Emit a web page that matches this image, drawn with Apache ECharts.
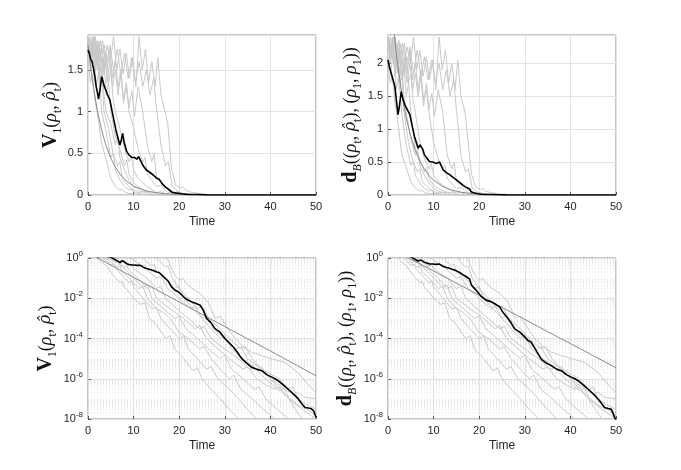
<!DOCTYPE html>
<html>
<head>
    <meta charset="UTF-8">
    <title>V1 / dB decay</title>
    <style>
        html, body { margin: 0; padding: 0; background: #fff; }
        #main { width: 681px; height: 470px; }
    </style>
</head>
<body>
<div id="main"></div>
<script src="https://cdn.jsdelivr.net/npm/echarts@6/dist/echarts.min.js"></script>
<script>
// x ticks and y ticks
var xTicks = [0, 10, 20, 30, 40, 50];
var yMaxLeft = 1.92, yMaxRight = 2.43;
var logMin = 1e-8, logMax = 1;

// black trajectory, left (V1) and right (dB)
var blackL = [[0,1.74],[0.3,1.7],[0.6,1.63],[0.9,1.6],[1.2,1.52],[1.5,1.42],[1.8,1.3],[2.1,1.22],[2.3,1.15],[2.6,1.25],[3.0,1.42],[3.3,1.36],[3.6,1.3],[3.9,1.26],[4.3,1.2],[4.8,1.14],[5.3,1.0],[5.6,0.92],[5.9,0.84],[6.2,0.76],[6.5,0.70],[7.0,0.60],[7.3,0.66],[7.6,0.74],[7.9,0.64],[8.5,0.52],[9.0,0.48],[9.6,0.45],[10.2,0.45],[10.7,0.43],[11.1,0.46],[11.4,0.44],[12.1,0.35],[12.8,0.30],[13.6,0.27],[14.3,0.24],[15.1,0.20],[15.6,0.19],[16.2,0.14],[16.5,0.12],[17.0,0.095],[17.6,0.07],[18.3,0.037],[19.1,0.025],[19.8,0.021],[20.5,0.015],[21.3,0.01],[22.0,0.008],[22.8,6.6e-3],[23.7,5.5e-3],[24.6,4.5e-3],[25.3,2.5e-3],[26.0,1e-3],[27.0,6e-4],[27.8,3.2e-4],[29.0,2e-4],[30.0,1e-4],[31.0,6e-5],[31.9,3.7e-5],[32.8,2e-5],[33.7,1e-5],[34.8,6e-6],[35.9,3.7e-6],[37,3e-6],[38.1,2.5e-6],[39.2,1.6e-6],[40.3,1.2e-6],[41.0,1e-6],[41.7,8e-7],[42.8,5e-7],[43.9,3e-7],[45,1.8e-7],[46.1,1e-7],[46.8,6e-8],[47.6,3.7e-8],[48.3,3.5e-8],[49.0,3.2e-8],[49.5,2.5e-8],[50,1.2e-8]];
var blackR = [[0,2.05],[0.3,1.95],[0.7,1.85],[1.1,1.75],[1.5,1.65],[1.9,1.4],[2.2,1.22],[2.5,1.35],[2.9,1.57],[3.3,1.45],[3.7,1.37],[4.2,1.3],[4.8,1.22],[5.3,1.05],[5.8,0.89],[6.2,0.8],[6.6,0.71],[7.0,0.76],[7.3,0.79],[7.6,0.7],[8.0,0.61],[8.5,0.56],[9.1,0.51],[9.8,0.5],[10.6,0.48],[11.0,0.51],[11.3,0.5],[12.1,0.38],[12.8,0.34],[13.5,0.31],[14.2,0.27],[15,0.23],[15.7,0.19],[16.4,0.15],[17.1,0.12],[17.9,0.09],[18.3,0.045],[19,0.03],[19.7,0.02],[20.5,0.012],[21.5,8e-3],[22.7,6.6e-3],[23.6,5e-3],[24.5,3.7e-3],[25.2,2e-3],[26,1.2e-3],[27,6e-4],[27.8,3e-4],[29,2e-4],[30,1.2e-4],[30.7,8e-5],[31.4,6.6e-5],[32.5,2.5e-5],[33.6,9.5e-6],[34.7,6e-6],[35.8,4.5e-6],[37,3e-6],[38,2.5e-6],[39.1,1.6e-6],[40.2,1.2e-6],[41,1e-6],[41.7,8e-7],[42.8,5e-7],[43.9,3e-7],[45,1.8e-7],[46.1,9.5e-8],[46.8,6e-8],[47.5,3.7e-8],[48.3,3.3e-8],[49,3e-8],[49.7,1.2e-8],[50,0.9e-8]];

// smooth exponential reference curves
var smoothL = [[0,1.8],[1,1.36],[2,1.03],[3,0.775],[4,0.585],[5,0.442],[6,0.334],[7,0.252],[8,0.19],[9,0.144],[10,0.108],[12,0.062],[14,0.0353],[16,0.0201],[18,0.0115],[20,0.00655],[25,1.6e-3],[30,3.9e-4],[35,9.7e-5],[40,2.4e-5],[45,5.8e-6],[50,1.4e-6]];
var smoothR = [[0,3.55],[1,2.69],[2,2.04],[3,1.55],[4,1.17],[5,0.89],[6,0.676],[7,0.51],[8,0.39],[9,0.295],[10,0.224],[12,0.129],[14,0.074],[16,0.0427],[18,0.0246],[20,0.0141],[25,3.5e-3],[30,8.9e-4],[35,2.2e-4],[40,5.6e-5],[45,1.4e-5],[50,3.5e-6]];

// gray sample trajectories: early part differs per panel, the tail is shared
var grayHeadL = [
    [[0,1.62],[0.5,1.35],[1,1.45],[1.5,1.15],[2,1.0]],
    [[0,1.7],[0.6,1.5],[1.2,1.75],[1.8,1.3],[2.4,1.5],[3,1.0]],
    [[0,1.85],[0.5,1.6],[1,1.8],[1.5,1.45],[2,1.7],[2.5,1.3],[3,1.5],[3.5,1.0]],
    [[0,1.9],[0.5,1.7],[1,1.85],[1.5,1.55],[2,1.8],[2.5,1.4],[3,1.65],[3.5,1.2],[4,1.0]],
    [[0,1.8],[0.5,1.9],[1,1.65],[1.5,1.9],[2,1.5],[2.5,1.75],[3,1.4],[3.5,1.6],[4,1.2],[4.5,1.35],[5,1.0]],
    [[0,1.9],[0.5,1.75],[1,1.9],[1.5,1.6],[2,1.85],[2.5,1.5],[3,1.8],[3.5,1.45],[4,1.7],[4.5,1.35],[5,1.5],[5.5,1.15],[6,1.0]],
    [[0,1.9],[0.6,1.8],[1.2,1.9],[1.8,1.7],[2.4,1.85],[3,1.6],[3.6,1.8],[4.2,1.5],[4.8,1.75],[5.4,1.4],[6,1.6],[6.6,1.3],[7.2,1.5],[7.8,1.15],[8.4,1.3],[9,1.0]],
    [[0,1.9],[0.7,1.75],[1.4,1.9],[2.1,1.65],[2.8,1.85],[3.5,1.55],[4.2,1.8],[4.9,1.6],[5.6,1.9],[6.3,1.5],[7,1.75],[7.7,1.45],[8.4,1.7],[9.1,1.4],[9.8,1.65],[10.5,1.3],[11.2,1.9],[11.9,1.5],[12.6,1.75],[13.3,1.35],[14,1.6],[14.7,1.3],[15.3,1.65],[16,1.2],[16.9,1.0]],
    [[0,1.85],[0.6,1.65],[1.2,1.85],[1.8,1.55],[2.4,1.8],[3,1.45],[3.6,1.7],[4.2,1.35],[4.8,1.6],[5.4,1.3],[6,1.5],[6.6,1.2],[7.2,1.45],[7.8,1.1],[8.4,1.35],[9,1.05],[9.6,1.25],[10.2,0.95],[11,1.3],[12,1.0]],
    [[0,1.9],[0.8,1.7],[1.6,1.9],[2.4,1.6],[3.2,1.85],[4,1.55],[4.8,1.8],[5.6,1.5],[6.4,1.75],[7.2,1.45],[8,1.7],[8.8,1.4],[9.6,1.65],[10.4,1.35],[11.2,1.6],[12,1.3],[12.8,1.5],[13.6,1.2],[14.4,1.4],[15,1.05]]
];
var grayHeadR = [
    [[0,2.0],[0.5,1.7],[1,1.8],[1.5,1.4],[2,1.2]],
    [[0,2.1],[0.6,1.85],[1.2,2.2],[1.8,1.6],[2.4,1.85],[3,1.25]],
    [[0,2.3],[0.5,2.0],[1,2.25],[1.5,1.8],[2,2.1],[2.5,1.6],[3,1.85],[3.5,1.25]],
    [[0,2.4],[0.5,2.1],[1,2.35],[1.5,1.9],[2,2.25],[2.5,1.75],[3,2.05],[3.5,1.5],[4,1.25]],
    [[0,2.25],[0.5,2.4],[1,2.05],[1.5,2.4],[2,1.85],[2.5,2.2],[3,1.75],[3.5,2.0],[4,1.5],[4.5,1.7],[5,1.25]],
    [[0,2.4],[0.5,2.2],[1,2.4],[1.5,2.0],[2,2.3],[2.5,1.85],[3,2.25],[3.5,1.8],[4,2.1],[4.5,1.7],[5,1.85],[5.5,1.45],[6,1.25]],
    [[0,2.4],[0.6,2.25],[1.2,2.4],[1.8,2.1],[2.4,2.35],[3,2.0],[3.6,2.3],[4.2,1.85],[4.8,2.2],[5.4,1.75],[6,2.0],[6.6,1.6],[7.2,1.9],[7.8,1.45],[8.4,1.6],[9,1.25]],
    [[0,2.4],[0.7,2.2],[1.4,2.4],[2.1,2.05],[2.8,2.3],[3.5,1.95],[4.2,2.25],[4.9,2.0],[5.6,2.4],[6.3,1.9],[7,2.2],[7.7,1.8],[8.4,2.1],[9.1,1.75],[9.8,2.05],[10.5,1.6],[11.2,2.4],[11.9,1.9],[12.6,2.2],[13.3,1.7],[14,2.0],[14.7,1.6],[15.3,2.05],[16,1.5],[16.9,1.25]],
    [[0,2.3],[0.6,2.05],[1.2,2.3],[1.8,1.95],[2.4,2.25],[3,1.8],[3.6,2.1],[4.2,1.7],[4.8,2.0],[5.4,1.6],[6,1.85],[6.6,1.5],[7.2,1.8],[7.8,1.35],[8.4,1.7],[9,1.3],[9.6,1.55],[10.2,1.2],[11,1.6],[12,1.25]],
    [[0,2.4],[0.8,2.1],[1.6,2.4],[2.4,2.0],[3.2,2.3],[4,1.95],[4.8,2.25],[5.6,1.85],[6.4,2.2],[7.2,1.8],[8,2.1],[8.8,1.75],[9.6,2.05],[10.4,1.7],[11.2,2.0],[12,1.6],[12.8,1.9],[13.6,1.5],[14.4,1.75],[15,1.3]]
];
var grayTail = [
    [[3,0.62],[4,0.42],[5,0.2],[6,0.1],[7,0.06],[7.5,0.07],[8,0.035],[9,0.02],[10,0.01],[11.5,5e-3],[12.5,6e-3],[13.5,1e-3],[15,5e-4],[17,1e-4],[18,1.4e-4],[19,3e-5],[21,1e-5],[23,2.5e-6],[24,3.5e-6],[25,1e-6],[27,3e-7],[29,1e-7],[31,3e-8],[33,1e-8]],
    [[4,0.75],[5,0.45],[5.6,0.5],[6,0.3],[7,0.18],[8,0.1],[9,0.06],[9.6,0.07],[10,0.035],[11,0.02],[12,0.01],[14,3e-3],[15,3.5e-3],[16,1e-3],[18,3e-4],[20,1e-4],[21,1.4e-4],[22,3e-5],[24,1e-5],[26,3e-6],[27,4e-6],[28.5,1e-6],[31,3e-7],[33,1e-7],[35,3e-8],[37,1e-8]],
    [[4.5,0.8],[5.5,0.5],[6.5,0.35],[7,0.4],[7.5,0.2],[9,0.1],[10,0.06],[11,0.03],[12,0.04],[13,0.01],[15,3e-3],[16.5,2e-3],[18,1e-3],[20,2e-4],[22,1e-4],[24.5,3e-5],[25.5,4e-5],[27,1e-5],[29,3e-6],[31,1e-6],[32,1.5e-6],[33.5,3e-7],[36,1e-7],[38.5,3e-8],[41,1e-8]],
    [[5,0.85],[6,0.6],[6.5,0.7],[7,0.45],[8,0.3],[9,0.18],[10,0.1],[11,0.06],[12,0.035],[13,0.045],[14,0.01],[16.5,3e-3],[19,1e-3],[20,1.3e-3],[21.5,3e-4],[24,1e-4],[26.5,3e-5],[29,1e-5],[30,1.5e-5],[31.5,3e-6],[34,1e-6],[36.5,3e-7],[37.5,4e-7],[39,1e-7],[41.5,3e-8],[44,1e-8]],
    [[6,0.7],[7,0.55],[8,0.35],[8.5,0.42],[9,0.25],[10,0.15],[11,0.1],[13,0.03],[14,0.04],[15,0.01],[18,3e-3],[21,1e-3],[23.5,3e-4],[24.5,4.5e-4],[26,1e-4],[28.5,3e-5],[31,1e-5],[34,3e-6],[35,4e-6],[37,1e-6],[39,5e-7],[41,3e-7],[42,4e-7],[44,1e-7],[47,3e-8],[50,1e-8]],
    [[7,0.8],[8,0.55],[9,0.4],[9.5,0.48],[10,0.3],[11,0.2],[13,0.1],[15,0.03],[16,0.04],[17,0.01],[19.5,3e-3],[22,1e-3],[24.5,3e-4],[25.5,4e-4],[27,1e-4],[30,3e-5],[33,1e-5],[35.5,3e-6],[36.5,3.5e-6],[38,1.6e-6],[40,6e-7],[42,2.5e-7],[43,3.5e-7],[44,1.2e-7],[46,5e-8],[48,3e-8],[50,1.6e-8]],
    [[10,0.8],[11,0.55],[12,0.4],[12.5,0.45],[13,0.25],[15,0.1],[16,0.12],[17.5,0.03],[20,0.01],[22.5,3e-3],[23.5,4e-3],[25,1e-3],[27,3e-4],[29,1e-4],[30,1.4e-4],[31.5,3e-5],[34,1e-5],[37,3e-6],[38,4e-6],[40,1e-6],[42.5,4e-7],[45,1.6e-7],[46,2.2e-7],[47.5,1.2e-7],[50,1e-7]],
    [[17.5,0.85],[18.3,0.32],[19.2,0.12],[20.2,0.08],[20.8,0.1],[21.3,0.063],[22.5,0.035],[24.6,0.017],[26.4,6e-3],[27.9,1e-3],[29,1.3e-3],[30,5.4e-4],[32.2,1e-4],[34,4e-5],[35.9,2.1e-5],[38,1.4e-5],[40.3,1e-5],[43.2,6.3e-6],[46.1,2e-6],[48,6e-7],[50,2e-7]],
    [[13,0.6],[14,0.4],[14.5,0.5],[15,0.2],[16,0.15],[17,0.1],[19,0.03],[20,0.04],[21,0.01],[23,3e-3],[25,1e-3],[26,1.4e-3],[27.5,3e-4],[30,1e-4],[32.5,3e-5],[33.5,4e-5],[35,1e-5],[38,3e-6],[42,1e-6],[44,3e-7],[45,4e-7],[46,1e-7],[48,5e-8],[50,3e-8]],
    [[16,0.6],[17,0.35],[17.6,0.4],[18.5,0.1],[20,0.03],[22,0.01],[24,3e-3],[25,4e-3],[26.5,1e-3],[29,3e-4],[31,1e-4],[33.5,3e-5],[34.5,4e-5],[36,1e-5],[38,3e-6],[40,1e-6],[42,3e-7],[44,1e-7],[45.5,3e-8],[47,1e-8]]
];

var FONT = 'Liberation Sans, Arial, sans-serif';
var SERIF = 'Liberation Serif, DejaVu Serif, serif';
var GRAY = '#c8c8c8', DARK = '#8a8a8a';

// minor grid positions for the log axes (2..9 x 10^k)
var minorLog = [];
for (var k = -8; k < 0; k++) {
    for (var m = 2; m <= 9; m++) minorLog.push(m * Math.pow(10, k));
}

var nameRich = {
    b: { fontFamily: SERIF, fontWeight: 'bold', fontSize: 20, lineHeight: 26, color: '#111' },
    n: { fontFamily: SERIF, fontSize: 18, lineHeight: 26, color: '#111' },
    i: { fontFamily: SERIF, fontStyle: 'italic', fontSize: 18, lineHeight: 26, color: '#111' },
    h: { fontFamily: 'DejaVu Serif, serif', fontStyle: 'italic', fontSize: 16, lineHeight: 26, color: '#111' },
    s: { fontFamily: SERIF, fontSize: 12, lineHeight: 13, verticalAlign: 'bottom', color: '#111' },
    si: { fontFamily: SERIF, fontStyle: 'italic', fontSize: 12, lineHeight: 13, verticalAlign: 'bottom', color: '#111' }
};
var nameV = '{b|V}{s|1}{n|(}{i|ρ}{s|t}{n|, }{h|ρ̂}{s|t}{n|)}';
var nameD = '{b|d}{si|B}{n|((}{i|ρ}{s|t}{n|, }{h|ρ̂}{s|t}{n|), (}{i|ρ}{s|1}{n|, }{i|ρ}{s|1}{n|))}';

var grids = [
    { left: 88, top: 35, width: 228, height: 160 },
    { left: 388, top: 35, width: 228, height: 160 },
    { left: 88, top: 258, width: 228, height: 161 },
    { left: 388, top: 258, width: 228, height: 161 }
];
grids.forEach(function (g) {
    g.show = true; g.borderColor = '#8c8c8c'; g.borderWidth = 1;
    g.backgroundColor = '#fff'; g.containLabel = false; g.outerBoundsMode = 'none';
});

var xAxes = grids.map(function (g, idx) {
    return {
        type: 'value', gridIndex: idx, min: xTicks[0], max: xTicks[xTicks.length - 1], interval: 10,
        name: 'Time', nameLocation: 'middle', nameGap: 21,
        nameTextStyle: { fontFamily: FONT, fontSize: 12, color: '#262626' },
        axisLine: { show: false },
        axisTick: { show: true, inside: true, length: 3, lineStyle: { color: '#555' } },
        axisLabel: { fontFamily: FONT, fontSize: 11, color: '#262626', margin: 6 },
        splitLine: { show: true, lineStyle: { color: '#e3e3e3', width: 1 } }
    };
});

function linY(idx, max, name, gap) {
    return {
        type: 'value', gridIndex: idx, min: 0, max: max, interval: 0.5,
        name: name, nameLocation: 'middle', nameGap: gap, nameRotate: 90,
        nameTextStyle: { rich: nameRich },
        axisLine: { show: false },
        axisTick: { show: true, inside: true, length: 3, lineStyle: { color: '#555' } },
        axisLabel: { fontFamily: FONT, fontSize: 11, color: '#262626', margin: 5, showMaxLabel: false },
        splitLine: { show: true, lineStyle: { color: '#e3e3e3', width: 1 } }
    };
}
function logY(idx, name, gap) {
    return {
        type: 'log', logBase: 10, gridIndex: idx, min: logMin, max: logMax, interval: 2, splitNumber: 4,
        name: name, nameLocation: 'middle', nameGap: gap, nameRotate: 90,
        nameTextStyle: { rich: nameRich },
        axisLine: { show: false },
        axisTick: { show: true, inside: true, length: 3, lineStyle: { color: '#555' } },
        axisLabel: {
            fontFamily: FONT, fontSize: 11, color: '#262626', margin: 5,
            formatter: function (v) {
                var e = Math.round(Math.log(v) / Math.LN10);
                return '{a|10}{e|' + e + '}';
            },
            rich: {
                a: { fontFamily: FONT, fontSize: 11, lineHeight: 16, color: '#262626' },
                e: { fontFamily: FONT, fontSize: 8, lineHeight: 10, verticalAlign: 'top', color: '#262626' }
            }
        },
        splitLine: { show: true, lineStyle: { color: '#e3e3e3', width: 1 } }
    };
}

var yAxes = [
    linY(0, yMaxLeft, nameV, 23),
    linY(1, yMaxRight, nameD, 22),
    logY(2, nameV, 29),
    logY(3, nameD, 29)
];

function line(idx, data, color, width, z) {
    return {
        type: 'line', xAxisIndex: idx, yAxisIndex: idx, data: data,
        showSymbol: false, symbol: 'none', clip: true, z: z,
        lineStyle: { color: color, width: width }, silent: true, animation: false
    };
}

var series = [];
for (var p = 0; p < 4; p++) {
    var right = (p % 2 === 1);
    if (p >= 2) {
        // dotted minor grid of the log panels
        minorLog.forEach(function (v) {
            var g = line(p, [[xTicks[0], v], [xTicks[xTicks.length - 1], v]], '#d2d2d2', 0.7, 1);
            g.lineStyle.type = [1, 2];
            series.push(g);
        });
    }
    var heads = right ? grayHeadR : grayHeadL;
    for (var i = 0; i < heads.length; i++) {
        series.push(line(p, heads[i].concat(grayTail[i]), GRAY, 1, 2));
    }
    series.push(line(p, right ? smoothR : smoothL, DARK, 1, 3));
    series.push(line(p, right ? blackR : blackL, '#000', 1.6, 4));
}

var chart = echarts.init(document.getElementById('main'), null, { renderer: 'canvas' });
chart.setOption({
    backgroundColor: '#fff',
    animation: false,
    grid: grids,
    xAxis: xAxes,
    yAxis: yAxes,
    series: series
});
</script>
</body>
</html>
